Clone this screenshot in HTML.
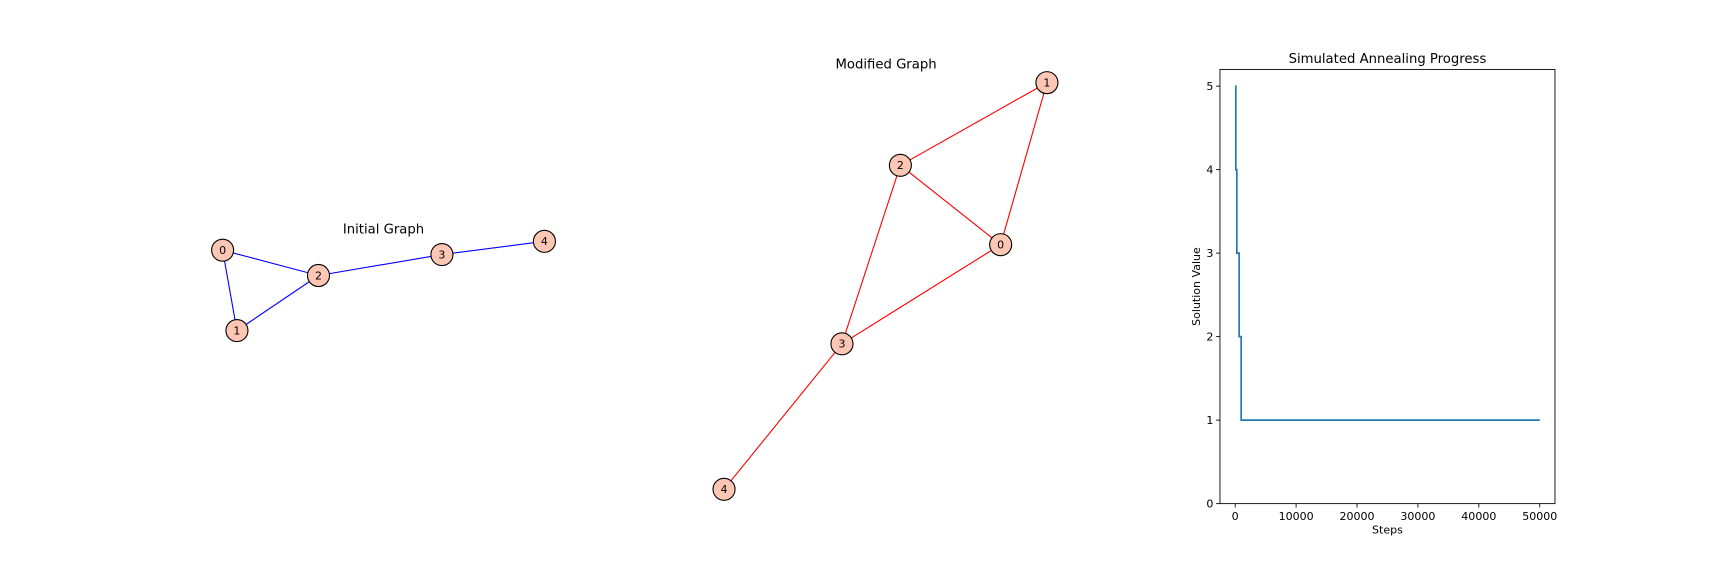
<!DOCTYPE html>
<html><head><meta charset="utf-8"><style>
html,body{margin:0;padding:0;background:#fff;}
svg{display:block;font-family:"DejaVu Sans","Liberation Sans",sans-serif;}
</style></head><body>
<svg id="fig" width="1728" height="576" viewBox="0 0 1568 522.67">
<rect width="1568" height="523" fill="#fff"/>
<g id="g1"></g>
<g id="g2"></g>
<g id="chart"></g>
</svg>
<script>
const initNodes = [[202,227],[215,300],[289,250],[401,231],[494,219]];
const initEdges = [[0,2],[0,1],[1,2],[2,3],[3,4]];
const modNodes = [[908,222],[950,75],[817,150],[764,312],[657,444]];
const modEdges = [[1,2],[1,0],[2,0],[2,3],[0,3],[3,4]];
const stepsX = [0,100,100,270,270,650,650,980,980,50000];
const solVals = [5,5,4,4,3,3,2,2,1,1];
const xTicks = [0,10000,20000,30000,40000,50000];
const yTicks = [0,1,2,3,4,5];
const NS='http://www.w3.org/2000/svg';
function mk(tag,attrs,parent){const e=document.createElementNS(NS,tag);for(const k in attrs)e.setAttribute(k,attrs[k]);parent.appendChild(e);return e;}
function drawGraph(g,nodes,edges,color,title,tx,ty,prefix){
  const t=mk('text',{x:tx,y:ty,'text-anchor':'middle','font-size':12,fill:'#000'},g);t.textContent=title;
  
  
  edges.forEach(([a,b])=>{const l=mk('line',{x1:nodes[a][0],y1:nodes[a][1],x2:nodes[b][0],y2:nodes[b][1],stroke:color,'stroke-width':1},g);
    
    });
  nodes.forEach(([x,y],i)=>{const c=mk('circle',{cx:x,cy:y,r:10,fill:'#fcc6b4',stroke:'#000','stroke-width':1},g);
    
    
    const tt=mk('text',{x:x,y:y+3.5,'text-anchor':'middle','font-size':10},g);tt.textContent=i;
    
    });
}
drawGraph(document.getElementById('g1'),initNodes,initEdges,'#0000ff','Initial Graph',348,212,'initial');
drawGraph(document.getElementById('g2'),modNodes,modEdges,'#ff0000','Modified Graph',804,62,'modified');
const ch=document.getElementById('chart');
const L=1107,R=1411,T=63,B=457;
const xmin=-2500,xmax=52500,ymin=0,ymax=5.2;
const sx=v=>L+(v-xmin)/(xmax-xmin)*(R-L);
const sy=v=>B-(v-ymin)/(ymax-ymin)*(B-T);
const path=stepsX.map((x,i)=>(i?'L':'M')+sx(x).toFixed(2)+','+sy(solVals[i]).toFixed(2)).join('');
const p=mk('path',{d:path,fill:'none',stroke:'#1f77b4','stroke-width':1.5},ch);


const fr=mk('rect',{x:L,y:T,width:R-L,height:B-T,fill:'none',stroke:'#000','stroke-width':0.8},ch);


xTicks.forEach(v=>{const x=sx(v);mk('line',{x1:x,y1:B,x2:x,y2:B+3.5,stroke:'#000','stroke-width':0.8},ch);
  const t=mk('text',{x:x,y:B+15,'text-anchor':'middle','font-size':10},ch);t.textContent=v;
  
  });
yTicks.forEach(v=>{const y=sy(v);mk('line',{x1:L-3.5,y1:y,x2:L,y2:y,stroke:'#000','stroke-width':0.8},ch);
  const t=mk('text',{x:L-6,y:y+3.5,'text-anchor':'end','font-size':10},ch);t.textContent=v;
  
  });
const ti=mk('text',{x:(L+R)/2,y:T-6,'text-anchor':'middle','font-size':12},ch);ti.textContent='Simulated Annealing Progress';


const xl=mk('text',{x:(L+R)/2,y:B+27,'text-anchor':'middle','font-size':10},ch);xl.textContent='Steps';


const yl=mk('text',{x:0,y:0,'text-anchor':'middle','font-size':10,transform:'translate(1089,'+((T+B)/2)+') rotate(-90)'},ch);yl.textContent='Solution Value';


</script>
</body></html>
